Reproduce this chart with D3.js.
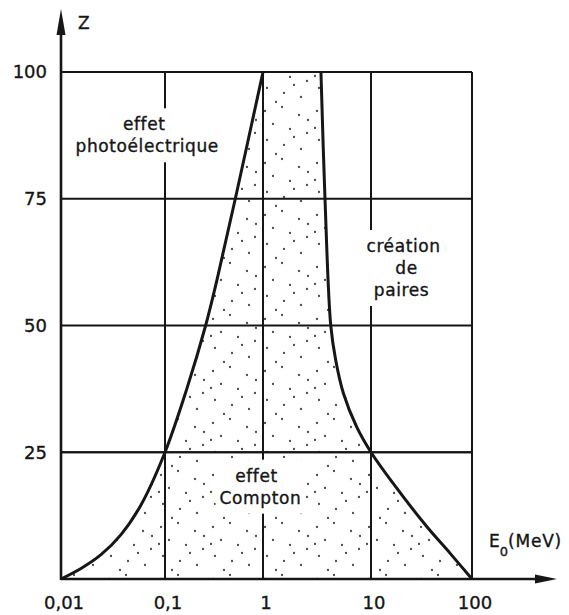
<!DOCTYPE html>
<html>
<head>
<meta charset="utf-8">
<script src="https://cdn.jsdelivr.net/npm/d3@7"></script>
<style>
  html, body { margin: 0; padding: 0; background: #fff; }
  svg { display: block; }
  text { font-family: "DejaVu Sans", sans-serif; fill: #151515; stroke: #151515; stroke-width: 0.35px; }
</style>
</head>
<body>
<svg id="chart" width="569" height="615"></svg>
<script>
// ---- data ----
const xTickValues = [0.01, 0.1, 1, 10, 100];
const xTickLabels = ["0,01", "0,1", "1", "10", "100"];
const yTickValues = [25, 50, 75, 100];
const yTickLabels = ["25", "50", "75", "100"];

// boundary photoelectric / Compton (E in MeV, Z)
const leftE = [0.01, 0.01556, 0.02425, 0.03775, 0.05875, 0.1, 0.1669, 0.259, 0.341, 0.523, 1];
const leftZ = [0, 2.07, 4.79, 8.76, 14.6, 25, 37.5, 49.9, 59.2, 75.1, 100];
// boundary Compton / pair creation
const rightE = [3.44, 3.75, 4.24, 4.71, 5.54, 7.37, 10, 16.5, 35.8, 60.5, 100];
const rightZ = [100, 75, 50, 43.2, 36.7, 30, 25, 18.9, 10.3, 5.1, 0];

const regionLabels = [
  { lines: ["effet", "photoélectrique"], e: 0.066, z: 88.5, dxs: [-2, 1] },
  { lines: ["création", "de", "paires"], e: 21, z: 64.5, dxs: [0, 3, -2] },
  { lines: ["effet", "Compton"], e: 0.92, z: 19.2, dxs: [-3, 1] }
];

// ---- scales ----
const svg = d3.select("#chart");
const x = d3.scaleLog().domain([0.01, 0.1, 1, 10, 100]).range([61, 165, 263, 371, 472]);
const y = d3.scaleLinear().domain([0, 100]).range([579, 72]);
const ink = "#161616";

// ---- stipple pattern ----
const defs = svg.append("defs");
const pat = defs.append("pattern").attr("id", "dots")
  .attr("patternUnits", "userSpaceOnUse").attr("width", 52).attr("height", 52);
const dotPos = [[5,7],[22,3],[39,11],[13,20],[30,25],[47,29],[7,36],[24,41],[41,45],[16,50],[34,33],[48,16],[3,24]];
pat.selectAll("circle").data(dotPos).join("circle")
  .attr("cx", d => d[0]).attr("cy", d => d[1]).attr("r", 1.15).attr("fill", "#4a4a4a");

const leftPts = leftE.map((e, i) => [x(e), y(leftZ[i])]);
const rightPts = rightE.map((e, i) => [x(e), y(rightZ[i])]);
const line = d3.line().curve(d3.curveCatmullRom.alpha(0.5));

// region between the two curves
const regionPath = line(leftPts) + "L" + rightPts[0].join(",") +
  line(rightPts).replace(/^M/, "L") + "Z";
svg.append("path").attr("d", regionPath).attr("fill", "url(#dots)").attr("stroke", "none");

// ---- grid ----
const grid = svg.append("g").attr("stroke", ink).attr("stroke-width", 2);
grid.selectAll("line.v").data(xTickValues.slice(1)).join("line")
  .attr("x1", d => x(d)).attr("x2", d => x(d)).attr("y1", y(0)).attr("y2", y(100));
grid.selectAll("line.h").data(yTickValues).join("line")
  .attr("x1", x(0.01)).attr("x2", x(100)).attr("y1", d => y(d)).attr("y2", d => y(d));

// ---- region labels with white backing ----
const labG = svg.append("g");
regionLabels.forEach(lab => {
  const g = labG.append("g");
  const bg = g.append("rect").attr("fill", "#fff");
  const cx = x(lab.e), by = y(lab.z);
  lab.lines.forEach((t, i) => {
    g.append("text").attr("x", cx + lab.dxs[i]).attr("y", by + i * 22)
      .attr("text-anchor", "middle").attr("font-size", 17)
      .attr("letter-spacing", 0.6).text(t);
  });
  const texts = g.selectAll("text").nodes().map(n => n.getBBox());
  const x0 = d3.min(texts, b => b.x), x1 = d3.max(texts, b => b.x + b.width);
  const y0 = d3.min(texts, b => b.y), y1 = d3.max(texts, b => b.y + b.height);
  bg.attr("x", x0 - 4).attr("y", y0 - 6).attr("width", x1 - x0 + 8).attr("height", y1 - y0 + 12);
});
// keep horizontal grid line Z=25 on top of the Compton label backing
svg.append("line").attr("x1", x(0.01)).attr("x2", x(100)).attr("y1", y(25)).attr("y2", y(25))
  .attr("stroke", ink).attr("stroke-width", 2);

// ---- curves ----
svg.append("path").attr("d", line(leftPts)).attr("fill", "none").attr("stroke", ink).attr("stroke-width", 3);
svg.append("path").attr("d", line(rightPts)).attr("fill", "none").attr("stroke", ink).attr("stroke-width", 3);

// ---- axes ----
const ax = svg.append("g");
ax.append("line").attr("x1", x(0.01)).attr("x2", 545).attr("y1", y(0)).attr("y2", y(0))
  .attr("stroke", ink).attr("stroke-width", 2.6);
ax.append("path").attr("d", `M557,${y(0)} L535,${y(0) - 4.5} L535,${y(0) + 4.5} Z`).attr("fill", ink);
ax.append("line").attr("x1", x(0.01)).attr("x2", x(0.01)).attr("y1", y(0) + 1).attr("y2", 24)
  .attr("stroke", ink).attr("stroke-width", 2.6);
ax.append("path").attr("d", `M${x(0.01)},9 L${x(0.01) - 4.5},35 L${x(0.01) + 4.5},35 Z`).attr("fill", ink);

// tick labels
ax.selectAll("text.xt").data(xTickValues).join("text")
  .attr("x", d => x(d) + 3).attr("y", 609).attr("text-anchor", "middle")
  .attr("font-size", 18).text((d, i) => xTickLabels[i]);
ax.selectAll("text.yt").data(yTickValues).join("text")
  .attr("x", 47).attr("y", d => y(d)).attr("dy", "0.36em").attr("text-anchor", "end")
  .attr("font-size", 18).text((d, i) => yTickLabels[i]);

// axis titles
ax.append("text").attr("x", 78).attr("y", 29).attr("font-size", 17).text("Z");
const et = ax.append("text").attr("x", 489).attr("y", 547).attr("font-size", 17);
et.append("tspan").text("E");
et.append("tspan").attr("font-size", 13).attr("dy", 9).text("0");
et.append("tspan").attr("dy", -9).attr("font-size", 17).attr("letter-spacing", 0.8).text("(MeV)");
</script>
</body>
</html>
